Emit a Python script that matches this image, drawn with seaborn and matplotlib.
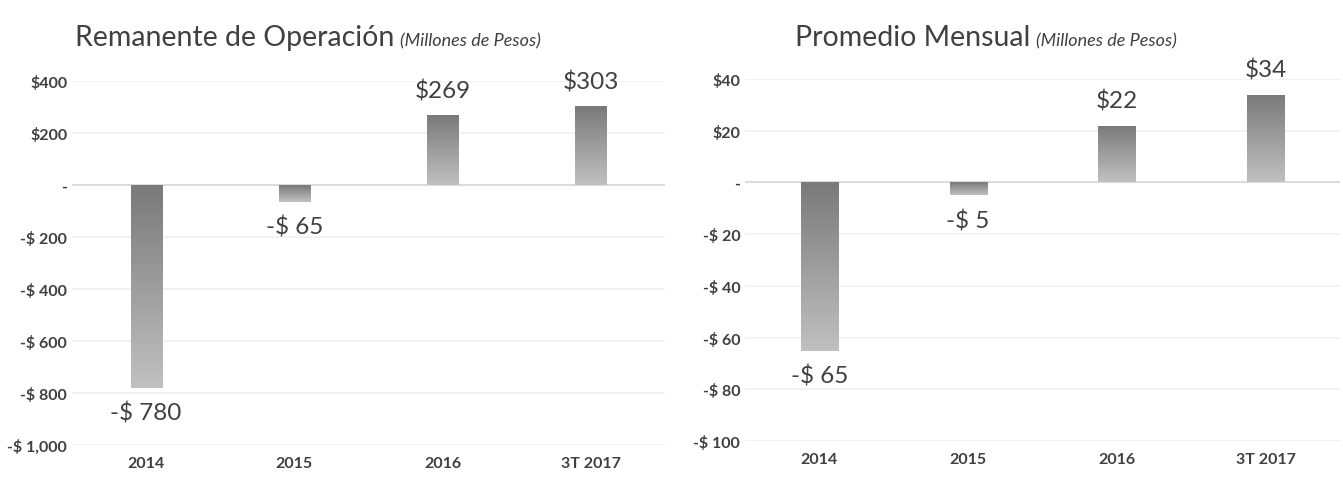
import numpy as np
import seaborn as sns
import matplotlib.pyplot as plt
from matplotlib.colors import LinearSegmentedColormap

categories = ["2014", "2015", "2016", "3T 2017"]
remanente = [-780, -65, 269, 303]
promedio = [-65, -5, 22, 34]
remanente_labels = ["-$ 780", "-$ 65", "$269", "$303"]
promedio_labels = ["-$ 65", "-$ 5", "$22", "$34"]
remanente_ticks = [400, 200, 0, -200, -400, -600, -800, -1000]
promedio_ticks = [40, 20, 0, -20, -40, -60, -80, -100]

sns.set_theme(style="white")
plt.rcParams['font.family'] = ['Lato', 'DejaVu Sans']

TXT = "#404040"
grad = LinearSegmentedColormap.from_list("g", ["#7a7a7a", "#c0c0c0"])


def money(v):
    if v == 0:
        return "-"
    if v > 0:
        return "${:,.0f}".format(v)
    return "-$ {:,.0f}".format(-v)


def panel(ax, values, labels, ticks, ylim, bw):
    sns.barplot(x=categories, y=values, ax=ax, color="#9a9a9a", width=bw,
                saturation=1, zorder=3)
    ax.set_xlim(-0.5, 3.5)
    ax.set_ylim(*ylim)
    # gradient fill on each bar
    for p in ax.patches:
        x0, y0 = p.get_x(), p.get_y()
        w, h = p.get_width(), p.get_height()
        top, bot = max(y0, y0 + h), min(y0, y0 + h)
        g = np.linspace(0, 1, 100).reshape(-1, 1)
        im = ax.imshow(g, extent=[x0, x0 + w, bot, top], origin="upper",
                       cmap=grad, aspect="auto", zorder=4)
        im.set_clip_path(p)
        p.set_edgecolor("none")
    ax.set_xlim(-0.5, 3.5)
    ax.set_ylim(*ylim)
    ax.bar_label(ax.containers[0], labels=labels, padding=10, fontsize=17.5,
                 color=TXT)
    ax.set_yticks(ticks)
    ax.set_yticklabels([money(t) for t in ticks])
    ax.yaxis.grid(True, color="#f0f0f0", linewidth=1.2, zorder=0)
    ax.axhline(0, color="#dcdcdc", linewidth=1.5, zorder=2)
    for s in ax.spines.values():
        s.set_visible(False)
    ax.tick_params(axis="both", length=0, labelsize=11.5, labelcolor=TXT)
    for t in ax.get_xticklabels() + ax.get_yticklabels():
        t.set_fontweight("bold")
    ax.tick_params(axis="x", pad=8)
    ax.set_xlabel("")
    ax.set_ylabel("")


fig = plt.figure(figsize=(13.43, 4.81), dpi=100)
ax1 = fig.add_axes([72 / 1343, 1 - 446 / 481, 593 / 1343, 364 / 481])
ax2 = fig.add_axes([745 / 1343, 1 - 442 / 481, 595 / 1343, 362 / 481])

panel(ax1, remanente, remanente_labels, remanente_ticks, (-1000, 400), 0.21)
panel(ax2, promedio, promedio_labels, promedio_ticks, (-100, 40), 0.25)

for x, title in [(75, "Remanente de Operación"), (795, "Promedio Mensual")]:
    t = fig.text(x / 1343, 1 - 46 / 481, title, fontsize=20.5, color=TXT)
    ax1.annotate("(Millones de Pesos)", xy=(1, 0), xycoords=t,
                 xytext=(4, 1), textcoords="offset points",
                 fontsize=13, style="italic", color=TXT,
                 va="bottom", ha="left", annotation_clip=False)

fig.savefig("out.png", dpi=100)
